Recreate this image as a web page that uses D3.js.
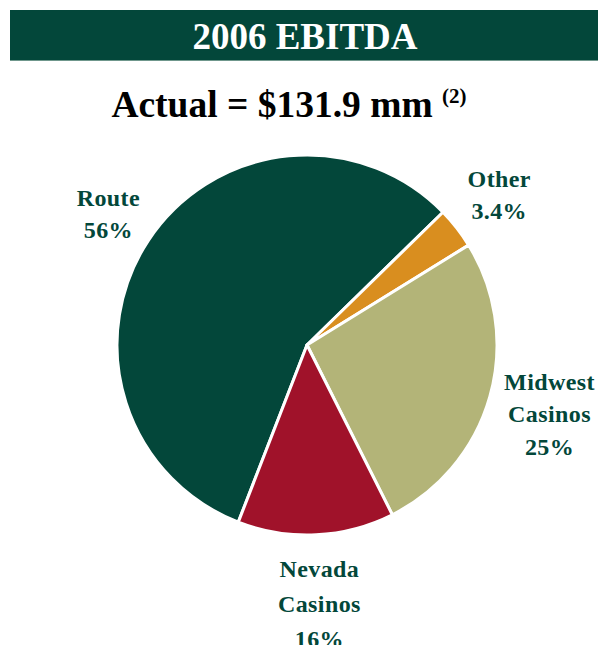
<!DOCTYPE html>
<html>
<head>
<meta charset="utf-8">
<script src="https://cdn.jsdelivr.net/npm/d3@7"></script>
<style>
  body { margin: 0; background: #ffffff; }
  svg { display: block; }
</style>
</head>
<body>
<svg id="chart" width="598" height="645"></svg>
<script>
// slice data, clockwise from the Route slice (shares as drawn in the picture)
var segments = ["Route", "Other", "Midwest Casinos", "Nevada Casinos"];
var shares = [56.8, 3.5, 26.4, 13.3];
// labels as printed next to each slice
var labelLines = [["Route", "56%"], ["Other", "3.4%"], ["Midwest", "Casinos", "25%"], ["Nevada", "Casinos", "16%"]];
var colors = ["#03473a", "#d98e1f", "#b3b478", "#a0122a"];

var title = "2006 EBITDA";
var subtitle = "Actual = $131.9 mm";
var footnote = "(2)";

var svg = d3.select("#chart");
var W = 598, H = 645;
var cx = 307, cy = 345, R = 190;
var green = "#03473a";
var font = "'Liberation Serif', 'Times New Roman', serif";

//Title bar
svg.append("rect")
   .attr("x", 10).attr("y", 10)
   .attr("width", W - 10).attr("height", 50)
   .attr("fill", green);
svg.append("line")
   .attr("x1", 10).attr("x2", W)
   .attr("y1", 60.5).attr("y2", 60.5)
   .attr("stroke", "#6f978c").attr("stroke-width", 1);
svg.append("text")
   .attr("x", 305).attr("y", 49)
   .attr("text-anchor", "middle")
   .attr("font-family", font)
   .attr("font-weight", "bold")
   .attr("font-size", 37)
   .attr("fill", "#ffffff")
   .text(title);

//Subtitle with footnote marker
var sub = svg.append("text")
   .attr("x", 289).attr("y", 117)
   .attr("text-anchor", "middle")
   .attr("font-family", font)
   .attr("font-weight", "bold")
   .attr("font-size", 37.5)
   .attr("fill", "#000000");
sub.append("tspan").text(subtitle + " ");
sub.append("tspan")
   .attr("font-size", 21)
   .attr("dy", -14)
   .text(footnote);

//Pie
var pie = d3.pie()
            .sort(null)
            .value(function(d) { return d; })
            .startAngle(201.2 * Math.PI / 180)
            .endAngle(201.2 * Math.PI / 180 + 2 * Math.PI);
var arc = d3.arc().innerRadius(0).outerRadius(R);
var arcs = pie(shares);

var g = svg.append("g").attr("transform", "translate(" + cx + "," + cy + ")");
g.selectAll("path.slice")
 .data(arcs)
 .enter().append("path")
 .attr("class", "slice")
 .attr("d", arc)
 .attr("fill", function(d, i) { return colors[i]; })
 .attr("stroke", "#ffffff")
 .attr("stroke-width", 3)
 .attr("stroke-linejoin", "round");

//Labels placed along each slice's middle angle
var labelRadius = [238, 244, 252, 259];
var lineGap = [32, 32, 32.5, 35];
arcs.forEach(function(a, i) {
    var mid = (a.startAngle + a.endAngle) / 2;
    var lx = labelRadius[i] * Math.sin(mid);
    var ly = -labelRadius[i] * Math.cos(mid);
    var lines = labelLines[i];
    var first = ly - ((lines.length - 1) * lineGap[i] - 17) / 2;
    var t = g.append("text")
             .attr("text-anchor", "middle")
             .attr("font-family", font)
             .attr("font-weight", "bold")
             .attr("font-size", 24)
             .attr("letter-spacing", 0.4)
             .attr("fill", green);
    lines.forEach(function(s, k) {
        t.append("tspan")
         .attr("x", lx)
         .attr("y", first + k * lineGap[i])
         .text(s);
    });
});
</script>
</body>
</html>
